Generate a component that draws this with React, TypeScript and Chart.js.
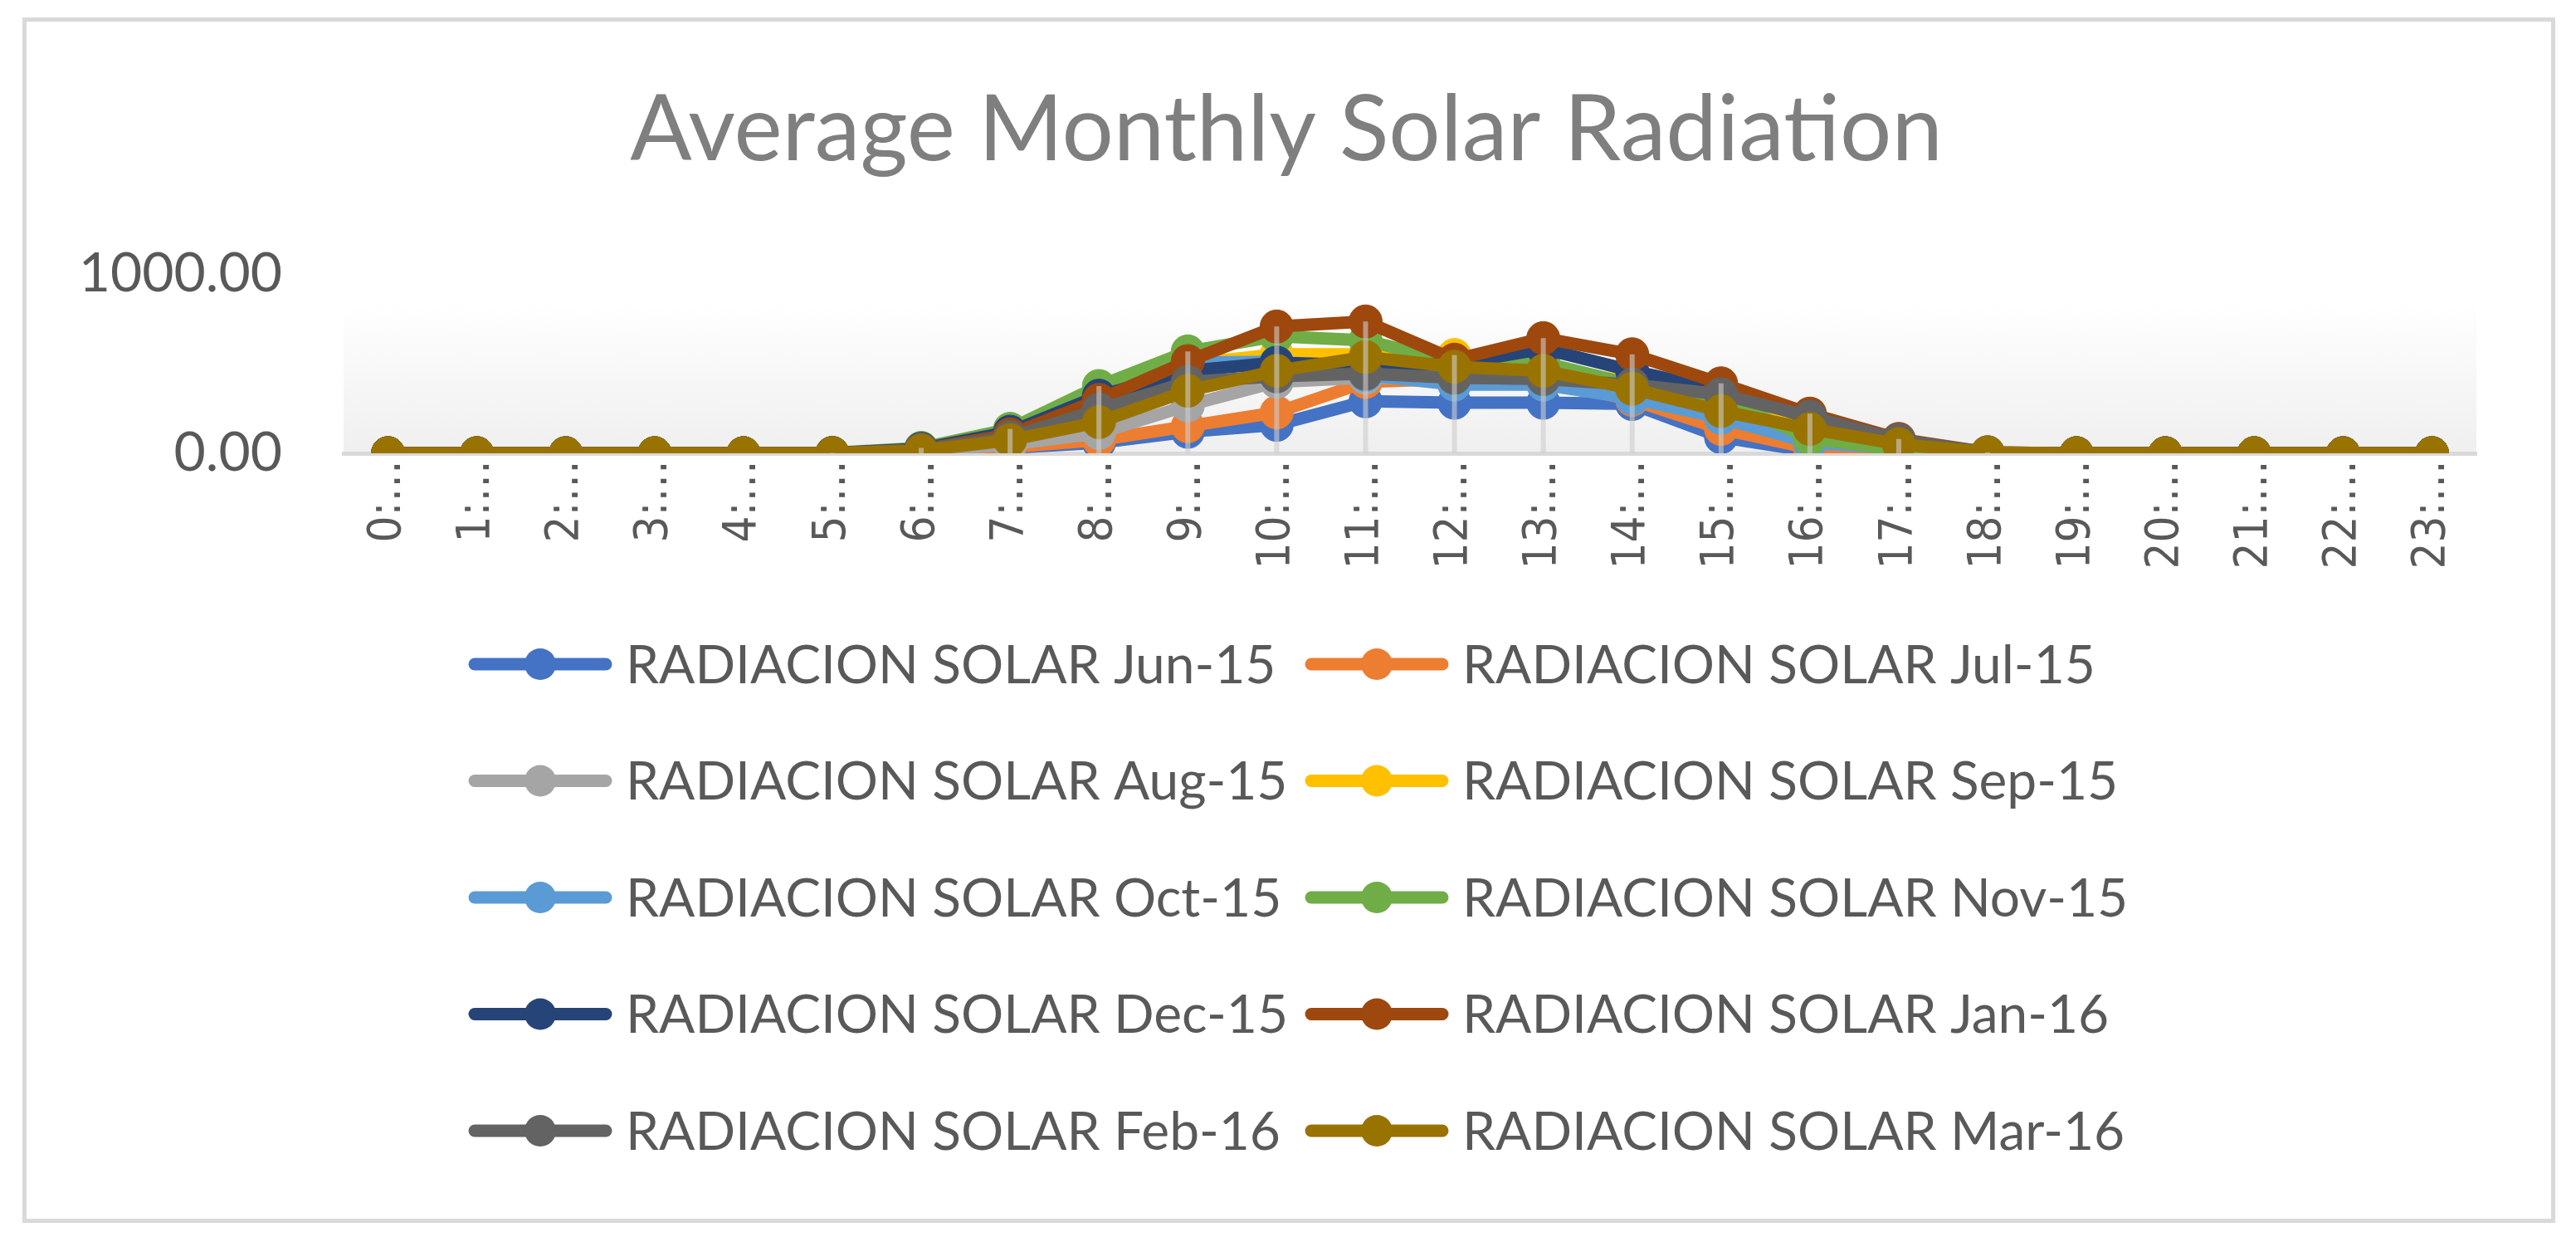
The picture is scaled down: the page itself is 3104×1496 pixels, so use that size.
import React, { useEffect, useRef } from "react";
import { Chart, registerables } from "chart.js";

Chart.register(...registerables);

const hourLabels = [
  "0:…", "1:…", "2:…", "3:…", "4:…", "5:…", "6:…", "7:…", "8:…", "9:…", "10:…", "11:…",
  "12:…", "13:…", "14:…", "15:…", "16:…", "17:…", "18:…", "19:…", "20:…", "21:…", "22:…", "23:…",
];

const seriesNames = [
  "RADIACION SOLAR Jun-15",
  "RADIACION SOLAR Jul-15",
  "RADIACION SOLAR Aug-15",
  "RADIACION SOLAR Sep-15",
  "RADIACION SOLAR Oct-15",
  "RADIACION SOLAR Nov-15",
  "RADIACION SOLAR Dec-15",
  "RADIACION SOLAR Jan-16",
  "RADIACION SOLAR Feb-16",
  "RADIACION SOLAR Mar-16",
];

const seriesColors = [
  "#4472C4", "#ED7D31", "#A5A5A5", "#FFC000", "#5B9BD5",
  "#70AD47", "#264478", "#9E480E", "#636363", "#997300",
];

const jun15 = [0, 0, 0, 0, 0, 0, 5, 30, 59, 120, 159, 290, 282, 282, 275, 90, 12, 5, 0, 0, 0, 0, 0, 0];
const jul15 = [0, 0, 0, 0, 0, 0, 5, 35, 74, 151, 228, 398, 414, 406, 298, 136, 28, 12, 0, 0, 0, 0, 0, 0];
const aug15 = [0, 0, 0, 0, 0, 0, 10, 50, 113, 267, 398, 421, 414, 414, 367, 275, 151, 40, 2, 0, 0, 0, 0, 0];
const sep15 = [0, 0, 0, 0, 0, 0, 15, 90, 282, 498, 552, 552, 548, 475, 398, 298, 167, 45, 2, 0, 0, 0, 0, 0];
const oct15 = [0, 0, 0, 0, 0, 0, 15, 90, 290, 506, 510, 437, 383, 383, 306, 198, 59, 28, 0, 0, 0, 0, 0, 0];
const nov15 = [0, 0, 0, 0, 0, 2, 30, 136, 375, 568, 653, 630, 506, 506, 383, 306, 82, 20, 0, 0, 0, 0, 0, 0];
const dec15 = [0, 0, 0, 0, 0, 1, 25, 120, 321, 460, 506, 491, 498, 583, 460, 352, 198, 65, 3, 0, 0, 0, 0, 0];
const jan16 = [0, 0, 0, 0, 0, 1, 20, 105, 298, 514, 707, 735, 522, 642, 552, 390, 221, 80, 5, 0, 0, 0, 0, 0];
const feb16 = [0, 0, 0, 0, 0, 0, 20, 90, 244, 398, 429, 444, 421, 414, 383, 329, 205, 74, 5, 0, 0, 0, 0, 0];
const mar16 = [0, 0, 0, 0, 0, 0, 15, 74, 174, 349, 460, 537, 483, 460, 360, 236, 136, 51, 5, 0, 0, 0, 0, 0];

const seriesValues = [jun15, jul15, aug15, sep15, oct15, nov15, dec15, jan16, feb16, mar16];

const yTicks = [0, 1000];

const TITLE = "Average Monthly Solar Radiation";
const TEXT_FONT = "Lato, 'Open Sans', sans-serif";

const backgroundPlugin = {
  id: "plotBackground",
  beforeDraw(chart: any) {
    const { ctx, chartArea } = chart;
    const g = ctx.createLinearGradient(0, chartArea.top, 0, chartArea.bottom);
    g.addColorStop(0, "#ffffff");
    g.addColorStop(0.15, "#ffffff");
    g.addColorStop(1, "#efefef");
    ctx.save();
    ctx.fillStyle = g;
    ctx.fillRect(chartArea.left, chartArea.top, chartArea.right - chartArea.left, chartArea.bottom - chartArea.top);
    ctx.restore();
  },
};

const dropLinesPlugin = {
  id: "dropLines",
  afterDatasetsDraw(chart: any) {
    const { ctx, scales } = chart;
    const xs = scales.x;
    const ys = scales.y;
    ctx.save();
    ctx.strokeStyle = "rgba(205,205,205,0.6)";
    ctx.lineWidth = 6;
    chart.data.labels.forEach((_: any, i: number) => {
      let max = 0;
      chart.data.datasets.forEach((ds: any) => {
        if (ds.data[i] > max) max = ds.data[i];
      });
      if (max <= 0) return;
      const x = xs.getPixelForValue(i);
      ctx.beginPath();
      ctx.moveTo(x, ys.getPixelForValue(max));
      ctx.lineTo(x, ys.getPixelForValue(0));
      ctx.stroke();
    });
    ctx.restore();
  },
};

const titleLegendPlugin = {
  id: "titleLegend",
  afterDraw(chart: any) {
    const { ctx } = chart;
    ctx.save();
    // title
    ctx.fillStyle = "#7f7f7f";
    ctx.font = `400 110px ${TEXT_FONT}`;
    ctx.textAlign = "center";
    ctx.textBaseline = "middle";
    ctx.fillText(TITLE, 1550, 158);
    // legend (2 columns)
    ctx.font = `400 64px ${TEXT_FONT}`;
    ctx.textAlign = "left";
    chart.data.datasets.forEach((ds: any, i: number) => {
      const col = i % 2;
      const row = Math.floor(i / 2);
      const x0 = 565 + col * 1008;
      const y = 800 + row * 140.5;
      ctx.strokeStyle = ds.borderColor;
      ctx.lineWidth = 15;
      ctx.lineCap = "round";
      ctx.beginPath();
      ctx.moveTo(x0 + 7, y);
      ctx.lineTo(x0 + 165, y);
      ctx.stroke();
      ctx.fillStyle = ds.borderColor;
      ctx.beginPath();
      ctx.arc(x0 + 86, y, 19, 0, Math.PI * 2);
      ctx.fill();
      ctx.fillStyle = "#595959";
      ctx.fillText(ds.label, x0 + 189, y + 2);
    });
    ctx.restore();
  },
};

export default function App() {
  const ref = useRef<HTMLCanvasElement | null>(null);

  useEffect(() => {
    if (!ref.current) return;
    const datasets = seriesNames.map((name, i) => ({
      label: name,
      data: seriesValues[i],
      borderColor: seriesColors[i],
      backgroundColor: seriesColors[i],
      pointBackgroundColor: seriesColors[i],
      pointBorderColor: seriesColors[i],
      pointBorderWidth: 1,
      pointRadius: 20,
      borderWidth: 15,
      borderJoinStyle: "round" as const,
      borderCapStyle: "round" as const,
      tension: 0,
      order: seriesNames.length - i,
    }));

    const chart = new Chart(ref.current, {
      type: "line",
      data: { labels: hourLabels, datasets },
      options: {
        animation: false,
        responsive: false,
        devicePixelRatio: 1,
        layout: { padding: { left: 0, top: 330, right: 120, bottom: 750 } },
        plugins: {
          legend: { display: false },
          title: { display: false },
          tooltip: { enabled: false },
        },
        scales: {
          x: {
            type: "category",
            offset: true,
            grid: { display: false, drawTicks: false },
            border: { display: true, color: "#d9d9d9", width: 5 },
            ticks: {
              autoSkip: false,
              minRotation: 90,
              maxRotation: 90,
              padding: 8,
              color: "#595959",
              font: { family: "'DejaVu Sans Condensed', 'DejaVu Sans', sans-serif", size: 56 },
            },
            afterFit: (s: any) => {
              s.height = 200;
            },
          },
          y: {
            min: 0,
            max: 1000,
            afterBuildTicks: (s: any) => {
              s.ticks = yTicks.map((v) => ({ value: v }));
            },
            grid: { display: false, drawTicks: false },
            border: { display: false },
            ticks: {
              padding: 74,
              color: "#595959",
              font: { family: TEXT_FONT, size: 66 },
              callback: (v: any) => Number(v).toFixed(2),
            },
            afterFit: (s: any) => {
              s.width = 414;
            },
          },
        },
      },
      plugins: [backgroundPlugin, dropLinesPlugin, titleLegendPlugin],
    });
    return () => chart.destroy();
  }, []);

  return (
    <div style={{ position: "fixed", left: 0, top: 0, width: 3104, height: 1496, background: "#ffffff" }}>
      <div
        style={{
          position: "absolute",
          left: 27,
          top: 21,
          width: 3052,
          height: 1452,
          border: "5px solid #d9d9d9",
          boxSizing: "border-box",
          background: "#ffffff",
        }}
      />
      <canvas
        ref={ref}
        width={3104}
        height={1496}
        style={{ position: "absolute", left: 0, top: 0, width: 3104, height: 1496 }}
      />
    </div>
  );
}
